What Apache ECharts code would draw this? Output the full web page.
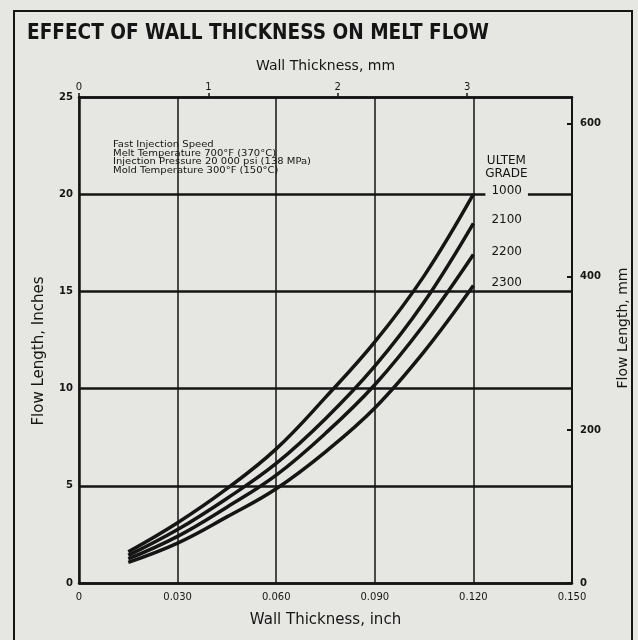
<!DOCTYPE html>
<html>
<head>
<meta charset="utf-8">
<script src="https://cdn.jsdelivr.net/npm/echarts@6/dist/echarts.min.js"></script>
<style>
  html, body { margin: 0; padding: 0; background: #e6e6e3; }
  #chart { width: 638px; height: 640px; }
</style>
</head>
<body>
<div id="chart"></div>
<script>
// Wall thickness (inch) at which flow length is given
const wallThicknessIn = [0.015, 0.030, 0.045, 0.060, 0.075, 0.090, 0.105, 0.120];

// Flow length (inch) for each ULTEM grade
const flow1000 = [1.60, 3.10, 4.85, 6.90, 9.55, 12.40, 15.80, 20.00];
const flow2100 = [1.42, 2.75, 4.35, 6.15, 8.45, 11.15, 14.45, 18.50];
const flow2200 = [1.24, 2.40, 3.90, 5.55, 7.70, 10.20, 13.30, 16.90];
const flow2300 = [1.06, 2.05, 3.40, 4.85, 6.75,  9.00, 11.90, 15.30];

const gradeNames = ['1000', '2100', '2200', '2300'];
const gradeFlows = [flow1000, flow2100, flow2200, flow2300];

// Process conditions note
const noteLines = [
  'Fast Injection Speed',
  'Melt Temperature 700°F (370°C)',
  'Injection Pressure 20 000 psi (138 MPa)',
  'Mold Temperature 300°F (150°C)'
];

const titleText = 'EFFECT OF WALL THICKNESS ON MELT FLOW';
const MM_PER_INCH = 25.4;
const X_MAX_IN = 0.15;
const Y_MAX_IN = 25;

const BG = '#e6e6e3';
const INK = '#151515';
const FONT = 'DejaVu Sans';

const chart = echarts.init(document.getElementById('chart'), null, { renderer: 'canvas' });

function gradeSeries(name, flows) {
  return {
    type: 'line',
    name: name,
    xAxisIndex: 0,
    yAxisIndex: 0,
    data: wallThicknessIn.map((x, i) => [x, flows[i]]),
    smooth: 0.4,
    symbol: 'none',
    lineStyle: { color: INK, width: 3.5 },
    endLabel: {
      show: true,
      formatter: '{a}',
      distance: 12,
      offset: [0, -3],
      fontFamily: FONT,
      fontSize: 12,
      color: INK,
      padding: [1, 6],
      backgroundColor: name === '1000' ? BG : 'transparent'
    },
    z: 5
  };
}

// squeeze the heading into its space
const measureCtx = document.createElement('canvas').getContext('2d');
measureCtx.font = 'bold 22px "DejaVu Sans"';
const titleScale = 462 / measureCtx.measureText(titleText).width;

const option = {
  backgroundColor: BG,
  animation: false,
  grid: { left: 79, right: 63, top: 97, bottom: 57 },
  xAxis: [
    {
      type: 'value',
      position: 'bottom',
      min: 0, max: X_MAX_IN, interval: 0.03,
      name: 'Wall Thickness, inch',
      nameLocation: 'middle',
      nameGap: 30,
      nameTextStyle: { fontFamily: FONT, fontSize: 15, color: INK },
      axisLine: { show: true, onZero: false, lineStyle: { color: INK, width: 2.5 } },
      axisTick: { show: false },
      axisLabel: {
        fontFamily: FONT, fontSize: 10, color: INK, margin: 9,
        formatter: v => (v === 0 ? '0' : v.toFixed(3))
      },
      splitLine: { show: true, lineStyle: { color: INK, width: 1.5 } }
    },
    {
      type: 'value',
      position: 'top',
      min: 0, max: X_MAX_IN * MM_PER_INCH, interval: 1,
      name: 'Wall Thickness, mm',
      nameLocation: 'middle',
      nameGap: 24,
      nameTextStyle: { fontFamily: FONT, fontSize: 14, color: INK },
      axisLine: { show: true, onZero: false, lineStyle: { color: INK, width: 2.5 } },
      axisTick: { show: true, length: 4, lineStyle: { color: INK, width: 1.5 } },
      axisLabel: { fontFamily: FONT, fontSize: 10, color: INK, margin: 5, showMaxLabel: false },
      splitLine: { show: false }
    }
  ],
  yAxis: [
    {
      type: 'value',
      position: 'left',
      min: 0, max: Y_MAX_IN, interval: 5,
      name: 'Flow Length, Inches',
      nameLocation: 'middle',
      nameGap: 32,
      nameRotate: 90,
      nameTextStyle: { fontFamily: FONT, fontSize: 15, color: INK, padding: [0, 0, 0, -22] },
      axisLine: { show: true, onZero: false, lineStyle: { color: INK, width: 2.5 } },
      axisTick: { show: false },
      axisLabel: { fontFamily: FONT, fontSize: 10, fontWeight: 'bold', color: INK, margin: 6 },
      splitLine: { show: true, lineStyle: { color: INK, width: 2.5 } }
    },
    {
      type: 'value',
      position: 'right',
      min: 0, max: Y_MAX_IN * MM_PER_INCH, interval: 200,
      name: 'Flow Length, mm',
      nameLocation: 'middle',
      nameGap: 44,
      nameRotate: 90,
      nameTextStyle: { fontFamily: FONT, fontSize: 14, color: INK, padding: [0, 0, 0, 24] },
      axisLine: { show: true, onZero: false, lineStyle: { color: INK, width: 2 } },
      axisTick: { show: true, inside: true, length: 5, lineStyle: { color: INK, width: 2 } },
      axisLabel: { fontFamily: FONT, fontSize: 10, fontWeight: 'bold', color: INK, margin: 8, showMaxLabel: false },
      splitLine: { show: false }
    }
  ],
  series: gradeNames.map((n, i) => gradeSeries(n, gradeFlows[i])),
  graphic: []
};

chart.setOption(option);

// heading, frame, process note and grade heading
const end1000 = chart.convertToPixel({ xAxisIndex: 0, yAxisIndex: 0 },
  [wallThicknessIn[wallThicknessIn.length - 1], flow1000[flow1000.length - 1]]);

chart.setOption({
  graphic: [
    {
      type: 'rect',
      shape: { x: 14, y: 11, width: 618, height: 660 },
      style: { fill: 'none', stroke: INK, lineWidth: 2 },
      silent: true
    },
    {
      type: 'text',
      x: 27, y: 33,
      scaleX: titleScale,
      style: {
        text: titleText,
        font: 'bold 22px "DejaVu Sans"',
        fill: INK,
        textAlign: 'left',
        textVerticalAlign: 'middle',
        verticalAlign: 'middle'
      }
    },
    {
      type: 'text',
      x: 113, y: 141,
      scaleX: 1.25,
      style: {
        text: noteLines.join('\n'),
        font: '8px "DejaVu Sans"',
        lineHeight: 8.5,
        fill: INK,
        textAlign: 'left'
      }
    },
    {
      type: 'text',
      x: end1000[0] + 33, y: end1000[1] - 40,
      style: {
        text: 'ULTEM\nGRADE',
        font: '12px "DejaVu Sans"',
        lineHeight: 13,
        fill: INK,
        textAlign: 'center'
      }
    }
  ]
});
</script>
</body>
</html>
